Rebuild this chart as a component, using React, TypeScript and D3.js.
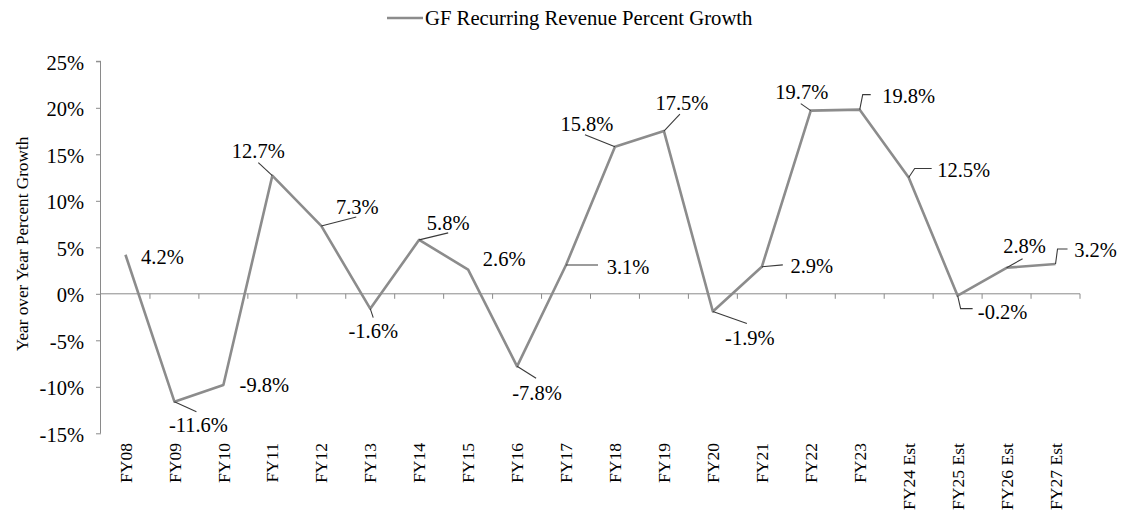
import React, { useRef, useEffect } from 'react';
import * as d3 from 'd3';

const categories = [
    'FY08', 'FY09', 'FY10', 'FY11', 'FY12', 'FY13', 'FY14', 'FY15', 'FY16', 'FY17',
    'FY18', 'FY19', 'FY20', 'FY21', 'FY22', 'FY23', 'FY24 Est', 'FY25 Est', 'FY26 Est', 'FY27 Est',
];
const growth = [
    4.2, -11.6, -9.8, 12.7, 7.3, -1.6, 5.8, 2.6, -7.8, 3.1,
    15.8, 17.5, -1.9, 2.9, 19.7, 19.8, 12.5, -0.2, 2.8, 3.2,
];
const yTicks = [-15, -10, -5, 0, 5, 10, 15, 20, 25];
const seriesName = 'GF Recurring Revenue Percent Growth';
const yTitle = 'Year over Year Percent Growth';

// label placement relative to its point: text centre offset + leader polyline
const labelLayout: { dx: number; dy: number; leader: [number, number][] }[] = [
    { dx: 37, dy: 2, leader: [] },
    { dx: 24, dy: 23, leader: [[22, 10]] },
    { dx: 41, dy: 0, leader: [] },
    { dx: -14, dy: -25, leader: [[-14, -13]] },
    { dx: 36, dy: -19, leader: [[35, -9]] },
    { dx: 3, dy: 22, leader: [[3, 9]] },
    { dx: 29, dy: -17, leader: [[29, -7]] },
    { dx: 36, dy: -11, leader: [] },
    { dx: 20, dy: 26, leader: [[19, 12]] },
    { dx: 62, dy: 2, leader: [[32, 0]] },
    { dx: -28, dy: -23, leader: [[-30, -12]] },
    { dx: 18, dy: -28, leader: [[16, -17]] },
    { dx: 37, dy: 26, leader: [[34, 12]] },
    { dx: 50, dy: -1, leader: [[21, -2]] },
    { dx: -9, dy: -19, leader: [[-10, -7]] },
    { dx: 49, dy: -14, leader: [[3, -15], [11, -15]] },
    { dx: 55, dy: -8, leader: [[6, -9], [23, -9]] },
    { dx: 45, dy: 16, leader: [[3, 13], [15, 13]] },
    { dx: 18, dy: -22, leader: [[16, -9]] },
    { dx: 40, dy: -14, leader: [[2, -15], [12, -15]] },
];

const W = 1122;
const H = 514;
const FONT = '"Liberation Serif", "Times New Roman", serif';

export default function App() {
    const svgRef = useRef<SVGSVGElement>(null);

    useEffect(() => {
        const svg = d3.select(svgRef.current);
        svg.selectAll('*').remove();

        const left = 101, right = 1080, top = 61.3, bottom = 433.3;

        const x = d3.scaleBand().domain(categories).range([left, right]).padding(0);
        const y = d3.scaleLinear().domain([-15, 25]).range([bottom, top]);
        const cx = (c: string) => (x(c) || 0) + x.bandwidth() / 2;

        const axisColor = '#8a8a8a';

        // y axis
        const yAxis = svg.append('g').attr('transform', `translate(${left},0)`)
            .call(d3.axisLeft(y).tickValues(yTicks).tickSize(5).tickPadding(12)
                .tickFormat(d => `${d}%`));
        yAxis.select('.domain').attr('stroke', axisColor).attr('d', `M-0.5,${bottom}V${top}M-5,${top}H0`);
        yAxis.selectAll('.tick line').attr('stroke', axisColor);
        yAxis.selectAll('.tick text')
            .attr('font-family', FONT).attr('font-size', 20.5).attr('fill', '#000').attr('dy', '0.38em');

        // x axis along zero line
        const y0 = y(0);
        const xAxis = svg.append('g');
        xAxis.append('line')
            .attr('x1', left).attr('x2', right).attr('y1', y0).attr('y2', y0)
            .attr('stroke', axisColor);
        xAxis.selectAll('line.tk')
            .data(categories)
            .join('line')
            .attr('class', 'tk')
            .attr('x1', d => (x(d) || 0) + x.bandwidth()).attr('x2', d => (x(d) || 0) + x.bandwidth())
            .attr('y1', y0).attr('y2', y0 + 5)
            .attr('stroke', axisColor);

        // category labels, rotated
        svg.append('g').selectAll('text')
            .data(categories)
            .join('text')
            .attr('transform', d => `translate(${cx(d)},443) rotate(-90)`)
            .attr('text-anchor', 'end')
            .attr('dy', '0.35em')
            .attr('font-family', FONT).attr('font-size', 17.6).attr('fill', '#000')
            .text(d => d);

        // y title
        svg.append('text')
            .attr('transform', `translate(22,244) rotate(-90)`)
            .attr('text-anchor', 'middle')
            .attr('dy', '0.35em')
            .attr('font-family', FONT).attr('font-size', 17.2).attr('fill', '#000')
            .text(yTitle);

        // series line
        const pts = categories.map((c, i) => [cx(c), y(growth[i])] as [number, number]);
        svg.append('path')
            .attr('d', d3.line()(pts))
            .attr('fill', 'none')
            .attr('stroke', '#8c8c8c')
            .attr('stroke-width', 2.6)
            .attr('stroke-linejoin', 'round');

        // leaders + labels
        const lab = svg.append('g');
        pts.forEach(([px, py], i) => {
            const l = labelLayout[i];
            if (l.leader.length) {
                const path: [number, number][] = [[px, py], ...l.leader.map(([a, b]) => [px + a, py + b] as [number, number])];
                lab.append('path')
                    .attr('d', d3.line()(path))
                    .attr('fill', 'none')
                    .attr('stroke', '#3a3a3a')
                    .attr('stroke-width', 1.1);
            }
            lab.append('text')
                .attr('x', px + l.dx).attr('y', py + l.dy)
                .attr('dy', '0.35em')
                .attr('text-anchor', 'middle')
                .attr('font-family', FONT).attr('font-size', 20.5).attr('fill', '#000')
                .text(`${growth[i].toFixed(1)}%`);
        });

        // legend
        const lg = svg.append('g');
        lg.append('line')
            .attr('x1', 387).attr('x2', 423).attr('y1', 18).attr('y2', 18)
            .attr('stroke', '#8c8c8c').attr('stroke-width', 2.6);
        lg.append('text')
            .attr('x', 425).attr('y', 18).attr('dy', '0.35em')
            .attr('font-family', FONT).attr('font-size', 20.7).attr('fill', '#000')
            .text(seriesName);
    }, []);

    return (
        <svg
            ref={svgRef}
            width={W}
            height={H}
            style={{ position: 'absolute', left: 0, top: 0, background: '#fff' }}
        />
    );
}
